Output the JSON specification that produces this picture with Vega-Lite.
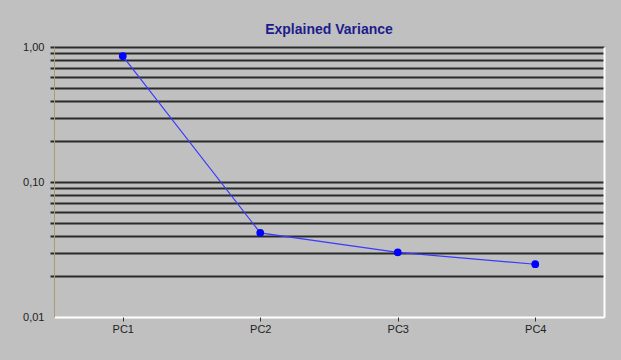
{
  "$schema": "https://vega.github.io/schema/vega-lite/v6.json",
  "width": 550,
  "height": 270,
  "autosize": {"type": "none"},
  "padding": {"left": 54, "top": 47, "right": 17, "bottom": 43},
  "background": "#c0c0c0",
  "title": {
    "text": "Explained Variance",
    "font": "Liberation Sans",
    "fontSize": 14,
    "fontWeight": "bold",
    "color": "#1c1c8c",
    "anchor": "middle",
    "offset": 4
  },
  "config": {"view": {"stroke": null}},
  "data": {
    "values": [
      {"pc": "PC1", "v": 0.857},
      {"pc": "PC2", "v": 0.042},
      {"pc": "PC3", "v": 0.0301},
      {"pc": "PC4", "v": 0.0246}
    ]
  },
  "encoding": {
    "x": {
      "field": "pc",
      "type": "nominal",
      "sort": null,
      "scale": {"type": "point", "padding": 0.5},
      "axis": {
        "title": null,
        "labelAngle": 0,
        "domain": false,
        "grid": false,
        "tickSize": 4,
        "tickColor": "#333333",
        "tickWidth": 1,
        "labelPadding": 2,
        "labelFont": "Liberation Sans",
        "labelFontSize": 11,
        "labelColor": "#222222"
      }
    }
  },
  "layer": [
    {
      "mark": {"type": "line", "color": "#3a3aff", "strokeWidth": 1.2},
      "encoding": {
        "y": {
          "field": "v",
          "type": "quantitative",
          "scale": {"type": "log", "domain": [0.01, 1], "nice": false},
          "axis": {
            "title": null,
            "values": [0.01, 0.02, 0.03, 0.04, 0.05, 0.06, 0.07, 0.08, 0.09, 0.1, 0.2, 0.3, 0.4, 0.5, 0.6, 0.7, 0.8, 0.9, 1],
            "labelExpr": "indexof([0.01, 0.1, 1], datum.value) >= 0 ? replace(format(datum.value, '.2f'), '.', ',') : ''",
            "grid": true,
            "gridColor": {"condition": {"test": "datum.value < 0.011", "value": "#ffffff"}, "value": "#2a2a2a"},
            "gridWidth": 2,
            "gridOpacity": 1,
            "ticks": true,
            "tickSize": 4,
            "tickColor": {"condition": {"test": "datum.value < 0.011", "value": "#c0c0c0"}, "value": "#2a2a2a"},
            "tickWidth": 2,
            "domainColor": "#b09a70",
            "domainWidth": 1,
            "labelPadding": 6,
            "labelFont": "Liberation Sans",
            "labelFontSize": 11,
            "labelColor": "#222222",
            "labelOverlap": false
          }
        }
      }
    },
    {
      "mark": {"type": "point", "filled": true, "color": "#0000ff", "size": 60, "opacity": 1},
      "encoding": {
        "y": {
          "field": "v",
          "type": "quantitative",
          "scale": {"type": "log", "domain": [0.01, 1], "nice": false},
          "axis": {
            "orient": "right",
            "title": null,
            "labels": false,
            "ticks": false,
            "grid": false,
            "domainColor": "#ffffff",
            "domainWidth": 2
          }
        }
      }
    }
  ],
  "resolve": {"axis": {"y": "independent"}}
}
